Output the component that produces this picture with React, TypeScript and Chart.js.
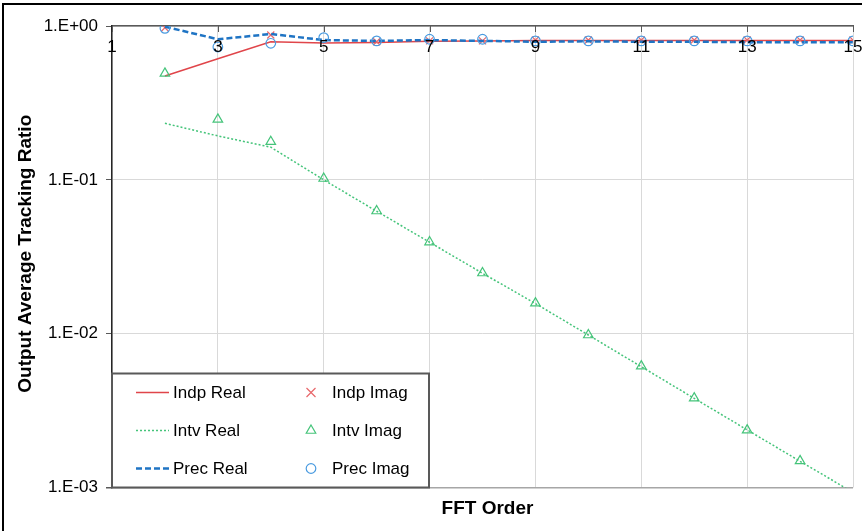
import React, { useEffect, useRef } from 'react';
import { Chart, registerables } from 'chart.js';

Chart.register(...registerables);

const FONT = "'Liberation Sans', Arial, sans-serif";

// ---- data ----
const fftOrders = [2, 3, 4, 5, 6, 7, 8, 9, 10, 11, 12, 13, 14, 15];
const indpReal = [0.473, 0.613, 0.791, 0.775, 0.78, 0.795, 0.8, 0.805, 0.805, 0.805, 0.805, 0.805, 0.805, 0.805];
const indpImag = [0.975, null, 0.874, null, 0.79, 0.8, 0.8, 0.81, 0.81, 0.81, 0.81, 0.81, 0.81, 0.81];
const intvReal = [0.233, 0.193, 0.163, 0.1, 0.0625, 0.0393, 0.0247, 0.0157, 0.0098, 0.0061, 0.0038, 0.00237, 0.00148, 0.00093];
const intvImag = [0.492, 0.247, 0.177, 0.102, 0.0627, 0.0394, 0.0248, 0.0158, 0.0098, 0.00615, 0.00381, 0.00236, 0.00149, null];
const precReal = [0.99, 0.82, 0.887, 0.81, 0.8, 0.81, 0.8, 0.79, 0.795, 0.79, 0.79, 0.785, 0.785, 0.783];
const precImag = [0.966, 0.73, 0.772, 0.84, 0.8, 0.82, 0.82, 0.8, 0.8, 0.8, 0.8, 0.8, 0.8, 0.8];

const seriesLabels = ['Indp Real', 'Indp Imag', 'Intv Real', 'Intv Imag', 'Prec Real', 'Prec Imag'];
const xTickValues = [1, 3, 5, 7, 9, 11, 13, 15];
const xTickLabels = ['1', '3', '5', '7', '9', '11', '13', '15'];
const yTickValues = [0.001, 0.01, 0.1, 1];
const yTickLabels = ['1.E-03', '1.E-02', '1.E-01', '1.E+00'];
const xTitle = 'FFT Order';
const yTitle = 'Output Average Tracking Ratio';

const RED = '#e0454a';
const RED_MK = '#e8676b';
const GREEN = '#45c47a';
const BLUE = '#1f74c4';
const BLUE_MK = '#4a9be0';

const pts = (vals: (number | null)[]) => fftOrders.map((x, i) => ({ x, y: vals[i] }));

function drawMarker(ctx: CanvasRenderingContext2D, style: string, x: number, y: number, r: number) {
  ctx.beginPath();
  if (style === 'crossRot') {
    const d = r * 0.9;
    ctx.moveTo(x - d, y - d); ctx.lineTo(x + d, y + d);
    ctx.moveTo(x + d, y - d); ctx.lineTo(x - d, y + d);
  } else if (style === 'triangle') {
    for (let k = 0; k < 3; k++) {
      const ang = (k * 2 * Math.PI) / 3;
      const px = x + Math.sin(ang) * r;
      const py = y - Math.cos(ang) * r;
      if (k === 0) ctx.moveTo(px, py); else ctx.lineTo(px, py);
    }
    ctx.closePath();
  } else {
    ctx.arc(x, y, r, 0, Math.PI * 2);
  }
  ctx.stroke();
}

const decorPlugin = {
  id: 'decor',
  afterDatasetsDraw(chart: any) {
    const { ctx, chartArea: a, scales } = chart;
    const xs = scales.x;
    ctx.save();

    // x tick marks (inside, below top axis)
    ctx.strokeStyle = '#595959';
    ctx.lineWidth = 1;
    xTickValues.forEach((v) => {
      const px = Math.round(xs.getPixelForValue(v)) + 0.5;
      ctx.beginPath();
      ctx.moveTo(px, a.top);
      ctx.lineTo(px, a.top + 6);
      ctx.stroke();
    });

    // x tick labels
    ctx.fillStyle = '#000';
    ctx.font = `17px ${FONT}`;
    ctx.textAlign = 'center';
    ctx.textBaseline = 'middle';
    xTickValues.forEach((v, i) => ctx.fillText(xTickLabels[i], xs.getPixelForValue(v), a.top + 21));

    // legend box
    const lx = a.left, ly = a.bottom - 114, lw = 317, lh = 114;
    ctx.fillStyle = '#fff';
    ctx.fillRect(lx, ly, lw, lh);
    ctx.strokeStyle = '#595959';
    ctx.lineWidth = 2;
    ctx.strokeRect(lx, ly, lw, lh);

    const ds = chart.data.datasets;
    const rowY = [ly + 19, ly + 57, ly + 95];
    ctx.font = `17px ${FONT}`;
    ctx.textAlign = 'left';
    ctx.textBaseline = 'middle';
    for (let r = 0; r < 3; r++) {
      const lineDs = ds[r * 2];
      const mkDs = ds[r * 2 + 1];
      const y = rowY[r];
      ctx.save();
      ctx.strokeStyle = lineDs.borderColor;
      ctx.lineWidth = lineDs.borderWidth;
      ctx.setLineDash(lineDs.borderDash || []);
      ctx.beginPath();
      ctx.moveTo(lx + 24, y);
      ctx.lineTo(lx + 57, y);
      ctx.stroke();
      ctx.restore();
      ctx.fillStyle = '#000';
      ctx.fillText(lineDs.label, lx + 61, y + 1);

      ctx.save();
      ctx.strokeStyle = mkDs.pointBorderColor;
      ctx.lineWidth = mkDs.pointBorderWidth;
      drawMarker(ctx, mkDs.pointStyle, lx + 199, y, mkDs.pointRadius);
      ctx.restore();
      ctx.fillStyle = '#000';
      ctx.fillText(mkDs.label, lx + 220, y + 1);
    }

    // axis titles
    ctx.fillStyle = '#000';
    ctx.font = `bold 19px ${FONT}`;
    ctx.textAlign = 'center';
    ctx.textBaseline = 'middle';
    ctx.fillText(xTitle, (a.left + a.right) / 2 + 5, 509);
    ctx.save();
    ctx.translate(26, (a.top + a.bottom) / 2 - 3);
    ctx.rotate(-Math.PI / 2);
    ctx.fillText(yTitle, 0, 0);
    ctx.restore();

    // outer frame
    ctx.strokeStyle = '#000';
    ctx.lineWidth = 2;
    ctx.beginPath();
    ctx.moveTo(3, 531);
    ctx.lineTo(3, 4);
    ctx.lineTo(862, 4);
    ctx.stroke();

    ctx.restore();
  },
};

export default function App() {
  const ref = useRef<HTMLCanvasElement>(null);

  useEffect(() => {
    document.body.style.margin = '0';
    const canvas = ref.current;
    if (!canvas) return;
    const chart = new Chart(canvas, {
      type: 'line',
      data: {
        datasets: [
          {
            label: seriesLabels[0], data: pts(indpReal), borderColor: RED, borderWidth: 1.5,
            pointRadius: 0, showLine: true, order: 6, spanGaps: true,
          },
          {
            label: seriesLabels[1], data: pts(indpImag), showLine: false, pointStyle: 'crossRot',
            pointRadius: 5, pointBorderColor: RED_MK, pointBorderWidth: 1.2, pointBackgroundColor: 'rgba(0,0,0,0)',
            borderColor: RED_MK, order: 5,
          },
          {
            label: seriesLabels[2], data: pts(intvReal), borderColor: GREEN, borderWidth: 1.5, borderDash: [2, 2],
            pointRadius: 0, showLine: true, order: 4,
          },
          {
            label: seriesLabels[3], data: pts(intvImag), showLine: false, pointStyle: 'triangle',
            pointRadius: 5.5, pointBorderColor: GREEN, pointBorderWidth: 1.2, pointBackgroundColor: 'rgba(0,0,0,0)',
            borderColor: GREEN, order: 3,
          },
          {
            label: seriesLabels[4], data: pts(precReal), borderColor: BLUE, borderWidth: 2.5, borderDash: [6, 3],
            pointRadius: 0, showLine: true, order: 2,
          },
          {
            label: seriesLabels[5], data: pts(precImag), showLine: false, pointStyle: 'circle',
            pointRadius: 4.8, pointBorderColor: BLUE_MK, pointBorderWidth: 1.2, pointBackgroundColor: 'rgba(0,0,0,0)',
            borderColor: BLUE_MK, order: 1,
          },
        ],
      },
      options: {
        animation: false,
        responsive: true,
        maintainAspectRatio: false,
        layout: { padding: { top: 26, left: 0, right: 9, bottom: 43.5 } },
        plugins: { legend: { display: false }, tooltip: { enabled: false } },
        elements: { line: { tension: 0 } },
        scales: {
          x: {
            type: 'linear',
            position: 'top',
            min: 1,
            max: 15,
            afterBuildTicks: (s: any) => { s.ticks = xTickValues.map((v) => ({ value: v })); },
            afterFit: (s: any) => { s.height = 0; },
            ticks: { display: false },
            grid: { color: '#d9d9d9', lineWidth: 1, drawTicks: false },
            border: { display: true, color: '#595959', width: 1.5 },
          },
          y: {
            type: 'logarithmic',
            min: 0.001,
            max: 1,
            afterBuildTicks: (s: any) => { s.ticks = yTickValues.map((v) => ({ value: v })); },
            afterFit: (s: any) => { s.width = 112; },
            ticks: {
              font: { family: FONT, size: 17 },
              color: '#000',
              padding: 8,
              callback: (v: any) => {
                const i = yTickValues.findIndex((t) => Math.abs(t - v) / t < 1e-6);
                return i >= 0 ? yTickLabels[i] : '';
              },
            },
            grid: {
              color: (c: any) => (c.tick && Math.abs(c.tick.value - 0.001) < 1e-9 ? '#a6a6a6' : '#d9d9d9'),
              lineWidth: (c: any) => (c.tick && Math.abs(c.tick.value - 0.001) < 1e-9 ? 1.5 : 1),
              tickLength: 6,
              tickColor: '#595959',
              drawTicks: true,
            },
            border: { display: true, color: '#262626', width: 1.5 },
          },
        },
      } as any,
      plugins: [decorPlugin],
    });
    return () => chart.destroy();
  }, []);

  return (
    <div style={{ position: 'absolute', left: 0, top: 0, width: 862, height: 531, background: '#fff' }}>
      <canvas ref={ref} />
    </div>
  );
}
